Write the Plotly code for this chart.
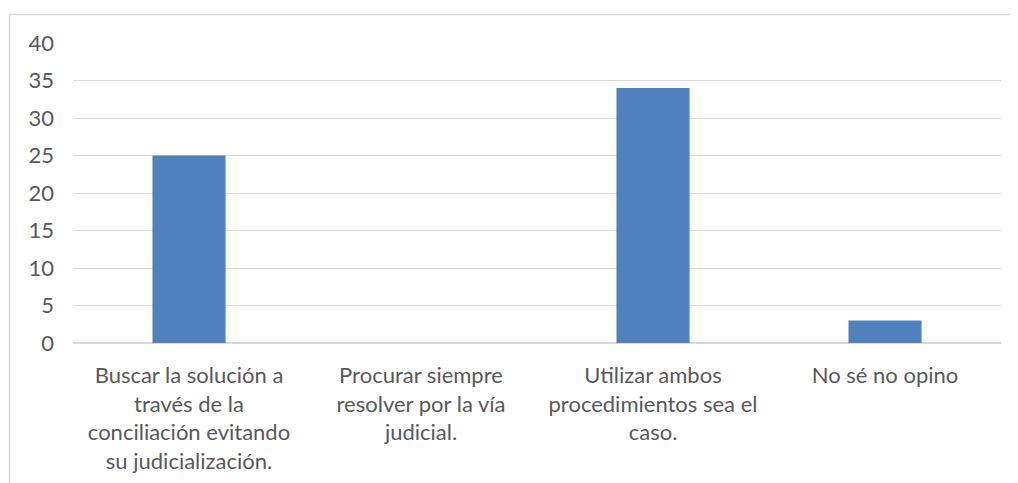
import plotly.graph_objects as go

categories = [
    "Buscar la solución a<br>través de la<br>conciliación evitando<br>su judicialización.",
    "Procurar siempre<br>resolver por la vía<br>judicial.",
    "Utilizar ambos<br>procedimientos sea el<br>caso.",
    "No sé no opino",
]
values = [25, 0, 34, 3]
y_ticks = [0, 5, 10, 15, 20, 25, 30, 35, 40]

# The page body adds an 8px offset, so the figure is drawn 8px smaller
OFF = 8
W, H = 1018 - OFF, 483 - OFF
L, R, T, B = 73 - OFF, 17, 43 - OFF, 140
pw, ph = W - L - R, H - T - B

fig = go.Figure()
fig.add_trace(
    go.Bar(
        x=categories,
        y=values,
        width=0.315,
        marker=dict(color="#4f81bd", line=dict(width=0)),
    )
)

# Chart-area border (cropped on the right and bottom in the original)
fig.add_shape(
    type="rect",
    xref="paper",
    yref="paper",
    x0=(9.5 - OFF - L) / pw,
    x1=(W + 20 - L) / pw,
    y0=-(H + 20 - T - ph) / ph,
    y1=(T - (14.5 - OFF)) / ph + 1,
    line=dict(color="#d9d9d9", width=1.5),
    fillcolor="rgba(0,0,0,0)",
    layer="below",
)

fig.update_layout(
    width=W,
    height=H,
    margin=dict(l=L, r=R, t=T, b=B, autoexpand=False),
    paper_bgcolor="white",
    plot_bgcolor="white",
    showlegend=False,
    font=dict(family="Lato, Carlito, sans-serif", color="#595959", size=22),
    xaxis=dict(
        showgrid=False,
        showline=False,
        ticks="",
        tickangle=0,
        ticklabelstandoff=17,
        automargin=False,
    ),
    yaxis=dict(
        range=[0, 40],
        tickvals=y_ticks,
        showgrid=True,
        gridcolor="#d9d9d9",
        gridwidth=1,
        zeroline=True,
        zerolinecolor="#d9d9d9",
        zerolinewidth=1.5,
        ticks="",
        ticklabelstandoff=18,
        automargin=False,
    ),
)

fig.write_html("out.html")
